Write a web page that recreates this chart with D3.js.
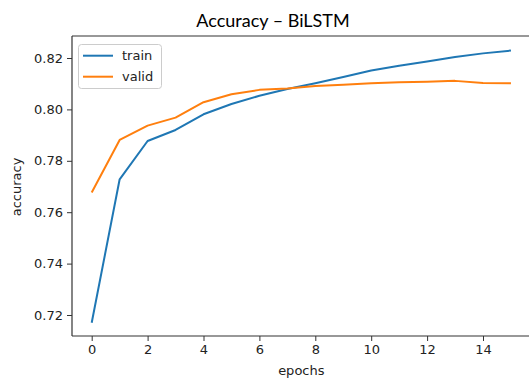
<!DOCTYPE html>
<html>
<head>
<meta charset="utf-8">
<script src="https://cdn.jsdelivr.net/npm/d3@7"></script>
<style>
  html, body { margin: 0; padding: 0; background: #fff; }
  svg { display: block; }
</style>
</head>
<body>
<script>
const epochs = [0,1,2,3,4,5,6,7,8,9,10,11,12,13,14,15];
const trainAcc = [0.7170,0.7728,0.7877,0.7920,0.7981,0.8021,0.8053,0.8079,0.8102,0.8126,0.8151,0.8170,0.8186,0.8204,0.8218,0.8229];
const validAcc = [0.7677,0.7881,0.7937,0.7968,0.8028,0.8059,0.8076,0.8081,0.8091,0.8096,0.8102,0.8106,0.8108,0.8111,0.8103,0.8102];
const xTicks = [0,2,4,6,8,10,12,14];
const yTicks = [0.72,0.74,0.76,0.78,0.80,0.82];
const seriesNames = ["train","valid"];
const colors = ["#1f77b4","#ff7f0e"];

(function () {
const W = 529, H = 379;
const svg = d3.select("body").append("svg").attr("width", W).attr("height", H);

const x = d3.scaleLinear().domain([0, 14]).range([91.7, 483]);
const y = d3.scaleLinear().domain([0.72, 0.82]).range([315, 58]);
const pLeft = 72, pTop = 36, pBottom = 336, pRight = 540;

// title
svg.append("text").attr("x", 273).attr("y", 27).attr("text-anchor", "middle")
  .attr("font-family", "Lato, 'Open Sans', sans-serif").attr("font-size", 18).attr("fill", "#000")
  .text("Accuracy – BiLSTM");

// lines
const line = d3.line().x((d, i) => x(epochs[i])).y(d => y(d));
[trainAcc, validAcc].forEach((s, k) => {
  svg.append("path").datum(s).attr("d", line).attr("fill", "none")
    .attr("stroke", colors[k]).attr("stroke-width", 2).attr("stroke-linejoin", "round");
});

// axes
const font = "'DejaVu Sans', sans-serif";
const xAxis = svg.append("g").attr("transform", `translate(0,${pBottom})`)
  .call(d3.axisBottom(x).tickValues(xTicks).tickSize(5).tickPadding(4).tickFormat(d3.format("d")));
const yAxis = svg.append("g").attr("transform", `translate(${pLeft},0)`)
  .call(d3.axisLeft(y).tickValues(yTicks).tickSize(5).tickPadding(4).tickFormat(d3.format(".2f")));
[xAxis, yAxis].forEach(g => {
  g.select(".domain").remove();
  g.selectAll("line").attr("stroke", "#333").attr("stroke-width", 1);
  g.selectAll("text").attr("font-family", font).attr("font-size", 13).attr("fill", "#222");
});

// spines
svg.append("line").attr("x1", pLeft).attr("x2", pLeft).attr("y1", pTop).attr("y2", pBottom).attr("stroke", "#333").attr("stroke-width", 1.2);
svg.append("line").attr("x1", pLeft).attr("x2", pRight).attr("y1", pBottom).attr("y2", pBottom).attr("stroke", "#333").attr("stroke-width", 1.2);
svg.append("line").attr("x1", pLeft).attr("x2", pRight).attr("y1", pTop).attr("y2", pTop).attr("stroke", "#333").attr("stroke-width", 1.2);

// axis labels
svg.append("text").attr("x", x(7.5)).attr("y", 375).attr("text-anchor", "middle")
  .attr("font-family", font).attr("font-size", 13).attr("fill", "#222").text("epochs");
svg.append("text").attr("transform", "translate(21,187) rotate(-90)").attr("text-anchor", "middle")
  .attr("font-family", font).attr("font-size", 13).attr("fill", "#222").text("accuracy");

// legend
const lg = svg.append("g");
lg.append("rect").attr("x", 78.5).attr("y", 44.5).attr("width", 83).attr("height", 44).attr("rx", 3)
  .attr("fill", "#fff").attr("fill-opacity", 0.8).attr("stroke", "#ccc");
seriesNames.forEach((n, k) => {
  const yy = 55.7 + k * 21;
  lg.append("line").attr("x1", 83).attr("x2", 113).attr("y1", yy).attr("y2", yy)
    .attr("stroke", colors[k]).attr("stroke-width", 2);
  lg.append("text").attr("x", 122).attr("y", yy + 4.5).attr("font-family", font).attr("font-size", 13)
    .attr("fill", "#222").text(n);
});
})();
</script>
</body>
</html>
